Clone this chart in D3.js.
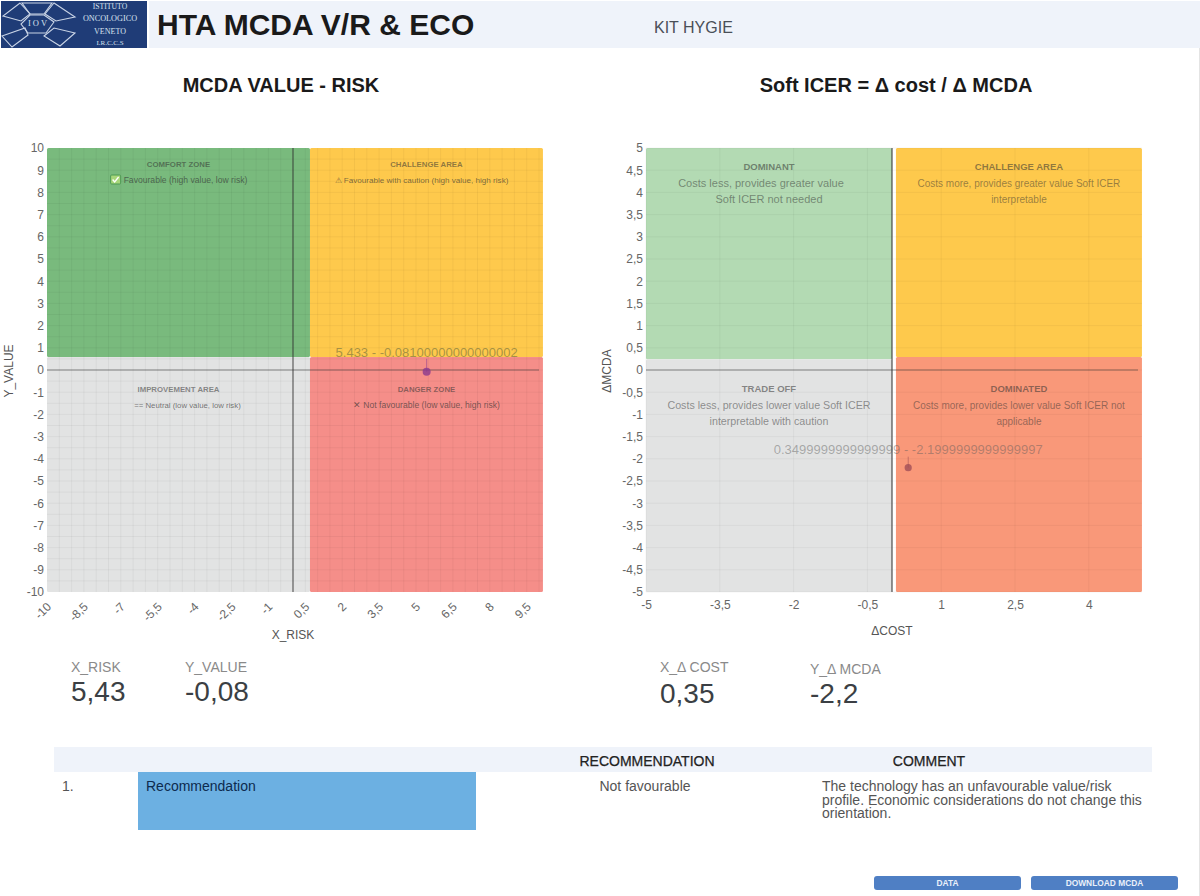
<!DOCTYPE html>
<html><head><meta charset="utf-8">
<script src="https://cdn.jsdelivr.net/npm/d3@7/dist/d3.min.js"></script>
<style>html,body{margin:0;padding:0;background:#fff;overflow:hidden}svg{display:block;font-family:"Liberation Sans",Arial,sans-serif}</style>
</head><body><svg id="c" width="1200" height="896"></svg>
<script>
const riskTicks = [-10,-8.5,-7,-5.5,-4,-2.5,-1,0.5,2,3.5,5,6.5,8,9.5];
const valueTicks = [10,9,8,7,6,5,4,3,2,1,0,-1,-2,-3,-4,-5,-6,-7,-8,-9,-10];
const costTicks = [-5,-3.5,-2,-0.5,1,2.5,4];
const mcdaTicks = [5,4.5,4,3.5,3,2.5,2,1.5,1,0.5,0,-0.5,-1,-1.5,-2,-2.5,-3,-3.5,-4,-4.5,-5];
const riskPoint = [5.433, -0.08100000000000002];
const costPoint = [0.3499999999999999, -2.1999999999999997];
const riskZones = [
 {x:[-10,0.69],y:[0.59,10],title:"COMFORT ZONE",lines:["Favourable (high value, low risk)"],icon:true},
 {x:[0.69,10.16],y:[0.59,10],title:"CHALLENGE AREA",lines:["⚠ Favourable with caution (high value, high risk)"]},
 {x:[-10,0.69],y:[-10,0.59],title:"IMPROVEMENT AREA",lines:["== Neutral (low value, low risk)"]},
 {x:[0.69,10.16],y:[-10,0.59],title:"DANGER ZONE",lines:["✕ Not favourable (low value, high risk)"]}
];
const costZones = [
 {x:[-5,0],y:[0.24,5],title:"DOMINANT",lines:["Costs less, provides greater value","Soft ICER not needed"]},
 {x:[0.08,5.08],y:[0.29,5],title:"CHALLENGE AREA",lines:["Costs more, provides greater value Soft ICER","interpretable"]},
 {x:[-5,0],y:[-5,0.24],title:"TRADE OFF",lines:["Costs less, provides lower value Soft ICER","interpretable with caution"]},
 {x:[0.08,5.08],y:[-5,0.29],title:"DOMINATED",lines:["Costs more, provides lower value Soft ICER not","applicable"]}
];
const riskFills = ["#79ba7d","#fec94c","#e2e3e3","#f58e89"];
const costFills = ["#b3dab3","#fec94c","#e2e3e3","#f99879"];
const riskLook = [{fs:8.6,sh:[7]},{fs:8.1,sh:[-5]},{fs:7.8,sh:[9]},{fs:8.6,sh:[0]}];
const costLook = [{fs:11,sh:[-8,0]},{fs:10,sh:[0,0]},{fs:10.7,sh:[0,0]},{fs:10,sh:[0,0]}];
const commentLines = ["The technology has an unfavourable value/risk","profile. Economic considerations do not change this","orientation."];
const comma = v => String(v).replace(".", ",");
const svg = d3.select("#c");
const T = (s,x,y,size,fill,o={}) => svg.append("text").attr("x",x).attr("y",y).attr("font-size",size).attr("fill",fill)
  .attr("font-weight",o.w||"normal").attr("text-anchor",o.a||"start").text(s);

// header
svg.append("rect").attr("x",149).attr("y",1).attr("width",1051).attr("height",47).attr("fill","#eff3fa");
svg.append("rect").attr("x",1).attr("y",1).attr("width",146).attr("height",47).attr("fill","#1f3c77");
const logo = svg.append("g").attr("fill","none").attr("stroke","#c9d4e6").attr("stroke-width",1.1);
["M22,3 L52,3 L44,14 L30,14 Z","M20,3 L30,14 L21,21 L3,16 Z","M54,3 L75,17 L56,21 L45,14 Z","M30,15 L44,15 L54,22 L46,33 L28,33 L21,24 Z","M2,36 L25,28 L28,35 L12,47 Z","M44,36 L54,28 L75,33 L60,46 Z"].forEach(d=>logo.append("path").attr("d",d));
T("I O V",37.5,26,8.5,"#d9e1ee",{a:"middle"}).attr("font-family","Liberation Serif");
[["ISTITUTO",9,7.7],["ONCOLOGICO",21,8.2],["VENETO",34,8],["I.R.C.C.S",45,7]].forEach(([s,y,f])=>T(s,110,y,f,"#d9e1ee",{a:"middle"}).attr("font-family","Liberation Serif"));
T("HTA MCDA V/R & ECO",157,35,30,"#1a1a1a",{w:"bold"});
T("KIT HYGIE",654,33,16,"#4a4f57");
T("MCDA VALUE - RISK",281,92,20,"#1a1a1a",{w:"bold",a:"middle"});
T("Soft ICER = Δ cost / Δ MCDA",896,92,20,"#1a1a1a",{w:"bold",a:"middle"});

function panel(cfg){
  const x = d3.scaleLinear().domain(cfg.xd).range([cfg.l,cfg.l+492]);
  const y = d3.scaleLinear().domain(cfg.yd).range([592,148]);
  const g = svg.append("g");
  cfg.zones.forEach((z,i)=>g.append("rect").attr("x",x(z.x[0])).attr("y",y(z.y[1])).attr("width",x(z.x[1])-x(z.x[0])).attr("height",y(z.y[0])-y(z.y[1])).attr("fill",cfg.fills[i]).attr("rx",1.5));
  const right = x(cfg.zones[1].x[1]);
  cfg.gridX.forEach(v=>g.append("line").attr("x1",x(v)).attr("x2",x(v)).attr("y1",148).attr("y2",592).attr("stroke","#000").attr("stroke-opacity",.045));
  cfg.gridY.forEach(v=>g.append("line").attr("x1",cfg.l).attr("x2",right).attr("y1",y(v)).attr("y2",y(v)).attr("stroke","#000").attr("stroke-opacity",.045));
  g.append("line").attr("x1",x(0)).attr("x2",x(0)).attr("y1",148).attr("y2",592).attr("stroke","#333").attr("stroke-opacity",cfg.zeroV).attr("stroke-width",1.6);
  g.append("line").attr("x1",cfg.l).attr("x2",x(cfg.xd[1])).attr("y1",y(0)).attr("y2",y(0)).attr("stroke","#333").attr("stroke-opacity",.55).attr("stroke-width",1);
  cfg.zones.forEach((z,k)=>{
    const cx=(x(z.x[0])+x(z.x[1]))/2, top=k<2?cfg.tTop:cfg.tBot;
    T(z.title,cx,top,cfg.fs1,"rgba(50,50,50,.55)",{w:"bold",a:"middle"});
    z.lines.forEach((s,i)=>{
      const tx=T(s,cx+cfg.look[k].sh[i],top+cfg.d1+i*cfg.dl,cfg.look[k].fs,cfg.textCol,{a:"middle"});
      if(z.icon){
        const bb=tx.node().getBBox();
        svg.append("rect").attr("x",bb.x-13).attr("y",bb.y).attr("width",10).attr("height",9).attr("rx",1).attr("fill","#a7d67a").attr("stroke","#4e9a55");
        svg.append("path").attr("d",`M${bb.x-11},${bb.y+4.5} l2,2.5 l4,-5`).attr("fill","none").attr("stroke","#fff").attr("stroke-width",1.3);
      }
    });
  });
  // axes
  const ax = svg.append("g").attr("transform","translate(0,592)").call(d3.axisBottom(x).tickValues(cfg.xt).tickSize(0).tickFormat(comma));
  ax.select(".domain").remove();
  ax.selectAll("text").attr("font-family","Liberation Sans").attr("font-size",12).attr("fill","#666");
  if(cfg.rot) ax.selectAll("text").attr("transform","translate(-10,7) rotate(-45)").attr("text-anchor","end").attr("dx","0.35em").attr("dy","1.1em");
  else ax.selectAll("text").attr("dy","1.15em");
  const ay = svg.append("g").attr("transform",`translate(${cfg.l},0)`).call(d3.axisLeft(y).tickValues(cfg.yt).tickSize(0).tickFormat(comma));
  ay.select(".domain").remove();
  ay.selectAll("text").attr("font-family","Liberation Sans").attr("font-size",12).attr("fill","#666");
  T(cfg.xt_label,x(0),cfg.xly,12,"#555",{a:"middle"});
  svg.append("text").attr("transform",`translate(${cfg.ylx},371) rotate(-90)`).attr("text-anchor","middle").attr("font-size",12).attr("fill","#555").text(cfg.yt_label);
  // point
  const px=x(cfg.p[0])+cfg.pdx, py=y(cfg.p[1]);
  g.append("line").attr("x1",px).attr("x2",px).attr("y1",py-cfg.stem).attr("y2",py).attr("stroke",cfg.pc).attr("stroke-opacity",.55);
  g.append("circle").attr("cx",px).attr("cy",py).attr("r",cfg.pr).attr("fill",cfg.pc).attr("fill-opacity",.8);
  T(cfg.p[0]+" - "+cfg.p[1],px,py-cfg.ldy,13,cfg.lc,{a:"middle"});
  // stats
  T(cfg.stat[0],cfg.stat[4],672,14,"#8a8a8a");
  T(comma(cfg.stat[1]),cfg.stat[4],701+cfg.sy,28,"#3b3f44");
  T(cfg.stat[2],cfg.stat[5],672+cfg.sy,14,"#8a8a8a");
  T(comma(cfg.stat[3]),cfg.stat[5],701+cfg.sy,28,"#3b3f44");
}
panel({l:47,xd:[-10,10],yd:[-10,10],zones:riskZones,fills:riskFills,look:riskLook,xt:riskTicks,yt:valueTicks,rot:true,sy:0,
  gridX:d3.range(-9.5,10.01,0.5),gridY:d3.range(-9.5,10,0.5),zeroV:.55,
  tTop:167,tBot:392,fs1:7.8,d1:16,dl:12,textCol:"rgba(50,50,50,.65)",
  xt_label:"X_RISK",xly:639,yt_label:"Y_VALUE",ylx:13,p:riskPoint,pdx:0,stem:13,pr:4,pc:"#8a3a8f",ldy:15,lc:"rgba(110,110,60,.6)",
  stat:["X_RISK",5.43,"Y_VALUE",-0.08,71,185]});
panel({l:646,xd:[-5,5],yd:[-5,5],zones:costZones,fills:costFills,look:costLook,xt:costTicks,yt:mcdaTicks,rot:false,sy:1.5,
  gridX:costTicks,gridY:mcdaTicks,zeroV:.65,
  tTop:170,tBot:392,fs1:9.5,d1:17,dl:15.5,textCol:"rgba(50,50,50,.5)",
  xt_label:"ΔCOST",xly:635,yt_label:"ΔMCDA",ylx:611,p:costPoint,pdx:-1,stem:11,pr:3.6,pc:"#a14f57",ldy:14,lc:"rgba(90,90,90,.45)",
  stat:["X_Δ COST",0.35,"Y_Δ MCDA",-2.2,660,810]});

// table
svg.append("rect").attr("x",54).attr("y",747).attr("width",1098).attr("height",25).attr("fill","#eff3fa");
T("RECOMMENDATION",647,766,14,"#222",{a:"middle"}).attr("stroke","#222").attr("stroke-width",.25);
T("COMMENT",929,766,14,"#222",{a:"middle"}).attr("stroke","#222").attr("stroke-width",.25);
svg.append("rect").attr("x",138).attr("y",772).attr("width",338).attr("height",58).attr("fill","#6cb0e2");
T("1.",62,791,14,"#555");
T("Recommendation",146,791,14,"#0d2b4e");
T("Not favourable",645,791,14,"#555",{a:"middle"});
commentLines.forEach((s,i)=>T(s,822,791+i*13.5,14,"#555"));
[["DATA",874],["DOWNLOAD MCDA",1031]].forEach(([s,bx])=>{
  svg.append("rect").attr("x",bx).attr("y",876).attr("width",147).attr("height",14).attr("rx",3).attr("fill","#4f7fc4");
  T(s,bx+73.5,886,8.4,"#eaf0fa",{a:"middle",w:"bold"});
});
svg.append("line").attr("x1",1199.5).attr("x2",1199.5).attr("y1",48).attr("y2",896).attr("stroke","#e4e4e4");
</script></body></html>
